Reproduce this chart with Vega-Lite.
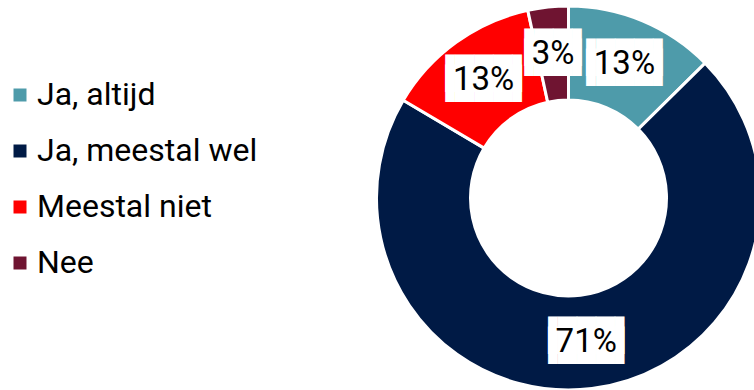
{
  "$schema": "https://vega.github.io/schema/vega-lite/v6.json",
  "width": 371,
  "height": 384,
  "autosize": {"type": "none"},
  "padding": {"left": 383, "top": 6, "right": 0, "bottom": 0},
  "background": "white",
  "config": {"view": {"stroke": null}, "font": "Roboto"},
  "data": {
    "values": [
      {"cat": "Ja, altijd", "value": 0.126},
      {"cat": "Ja, meestal wel", "value": 0.709},
      {"cat": "Meestal niet", "value": 0.131},
      {"cat": "Nee", "value": 0.034}
    ]
  },
  "transform": [
    {"calculate": "'▐' + pad('', length(format(datum.value, '.0%')), '█') + '▌'", "as": "box"}
  ],
  "layer": [
    {
      "mark": {"type": "arc", "outerRadius": 192, "innerRadius": 98, "stroke": "white", "strokeWidth": 3},
      "encoding": {
        "theta": {"field": "value", "type": "quantitative", "stack": true},
        "order": {"field": "cat", "sort": "ascending"},
        "color": {
          "field": "cat",
          "type": "nominal",
          "scale": {
            "domain": ["Ja, altijd", "Ja, meestal wel", "Meestal niet", "Nee"],
            "range": ["#4E9BAA", "#001A45", "#FF0000", "#6F1431"]
          },
          "legend": {
            "orient": "none",
            "legendX": -379,
            "legendY": 73,
            "title": null,
            "symbolType": "square",
            "symbolSize": 169,
            "symbolStrokeWidth": 0,
            "labelFont": "Roboto",
            "labelFontSize": 32,
            "labelColor": "black",
            "labelOffset": 1,
            "rowPadding": 24,
            "labelLimit": 400
          }
        }
      }
    },
    {
      "mark": {"type": "text", "radius": 145, "font": "DejaVu Sans Mono", "fontSize": 31.6, "color": "white", "baseline": "middle", "dy": -5},
      "encoding": {
        "theta": {"field": "value", "type": "quantitative", "stack": true},
        "order": {"field": "cat", "sort": "ascending"},
        "text": {"field": "box"}
      }
    },
    {
      "mark": {"type": "text", "radius": 145, "font": "DejaVu Sans Mono", "fontSize": 31.6, "color": "white", "baseline": "middle", "dy": 5},
      "encoding": {
        "theta": {"field": "value", "type": "quantitative", "stack": true},
        "order": {"field": "cat", "sort": "ascending"},
        "text": {"field": "box"}
      }
    },
    {
      "mark": {"type": "text", "radius": 145, "font": "Roboto", "fontSize": 33, "color": "black", "baseline": "middle"},
      "encoding": {
        "theta": {"field": "value", "type": "quantitative", "stack": true},
        "order": {"field": "cat", "sort": "ascending"},
        "text": {"field": "value", "format": ".0%"}
      }
    }
  ]
}
